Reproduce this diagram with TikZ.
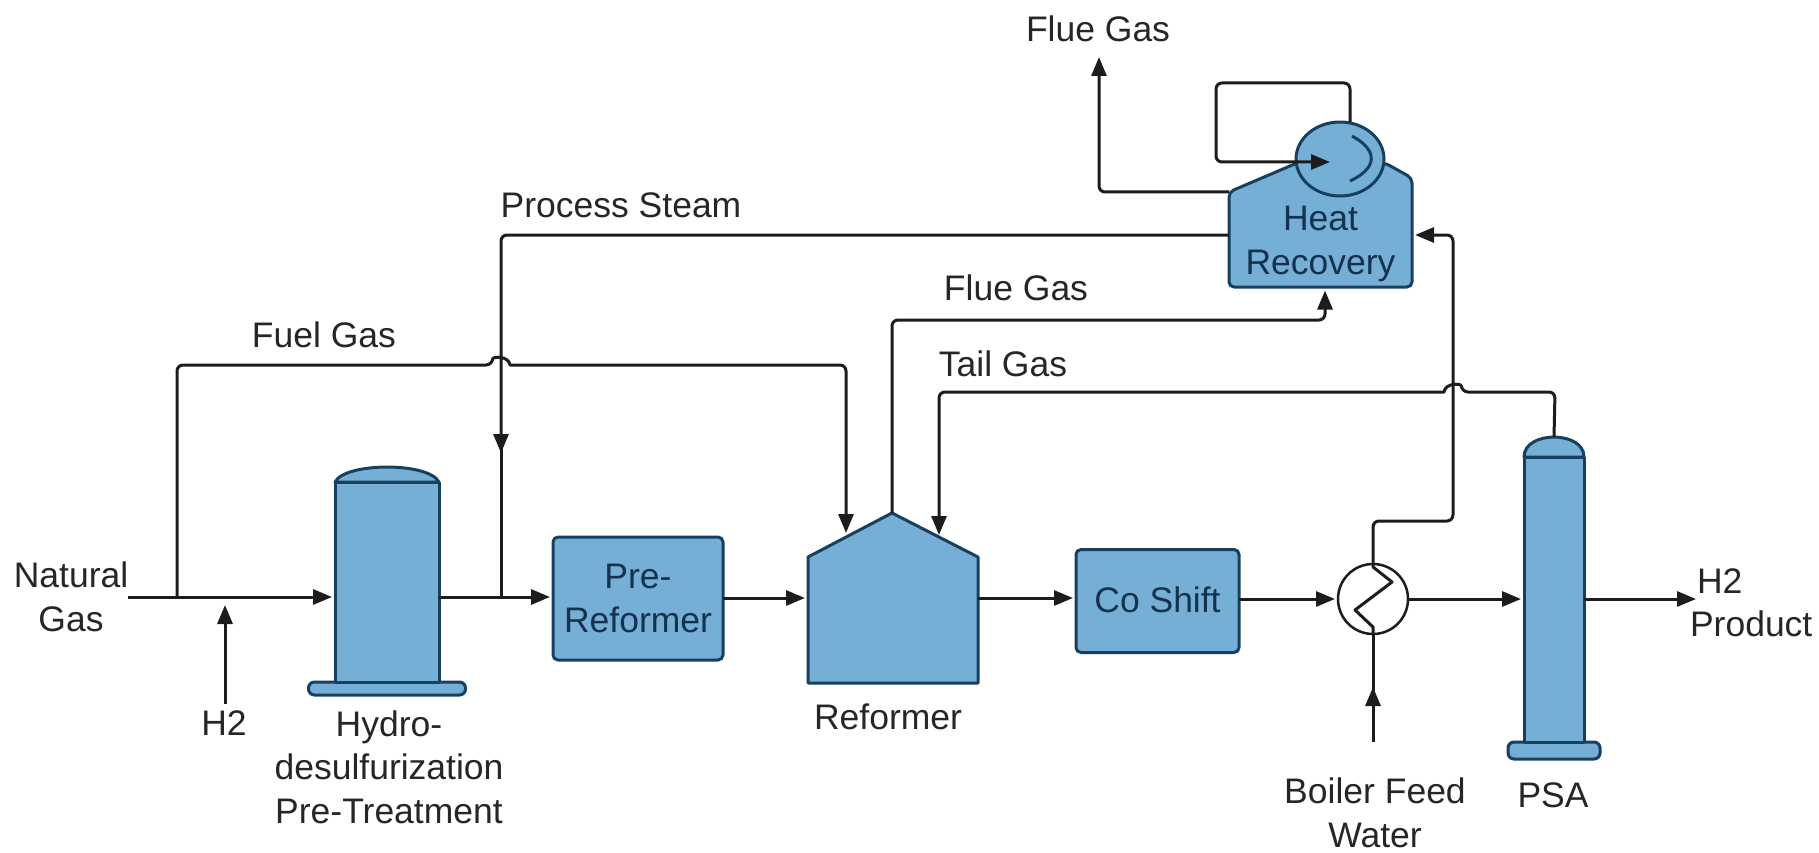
\documentclass[tikz,border=0pt]{standalone}
\usepackage{fontspec}
\setmainfont{Liberation Sans}
\usetikzlibrary{shapes.geometric,calc,arrows.meta}
\definecolor{unitblue}{HTML}{76AFD6}
\definecolor{unitline}{HTML}{17405F}
\definecolor{unittext}{HTML}{14324D}
\definecolor{pipeline}{HTML}{1C1C1C}
\newcommand{\vessel}[9]{
	\filldraw[shell] ($(#2,#4)+(-0.5*#3,0)$) .. controls ($(#2,#4)+(-#9*#3,-1.33*#6)$) and ($(#2,#4)+(#9*#3,-1.33*#6)$) .. ($(#2,#4)+(0.5*#3,0)$) -- cycle;
	\filldraw[shell,rounded corners=6pt] ($(#2,#5)+(-#7,0)$) rectangle ($(#2,#5)+(#7,#8)$);
	\node[shell, minimum width=#3pt, minimum height={#5pt-#4pt}] (#1) at (#2,{(#4+#5)/2}) {};
	\coordinate (#1_top) at ($(#2,#4)+(0,-#6)$);
}

\begin{document}
\begin{tikzpicture}[x=1pt,y=-1pt,join=round,font=\fontsize{35.5}{43.5}\selectfont]
		\tikzstyle{shell}=[draw=unitline, fill=unitblue, line width=3pt, inner sep=0, outer sep=0];
		\tikzstyle{unit_box}=[shell, rounded corners=5pt, text=unittext, align=center];
		\tikzstyle{ghost}=[inner sep=0, outer sep=0, text=unittext, align=center];
		\tikzstyle{txt}=[inner sep=0, outer sep=0, text=black!85, align=center];
		\tikzstyle{pipe}=[draw=pipeline, line width=3pt, rounded corners=6pt];
		\tikzstyle{flow}=[pipe, -{Triangle[length=19pt,width=15pt]}, shorten >=3pt];
		
		\useasboundingbox (0,0) rectangle (1819,853);
		
		\vessel{hydro}{387}{104}{482}{682}{15}{78.5}{13}{0.4}
		\vessel{psa}{1554}{60}{457}{742}{20}{46}{17}{0.5}
		
		\node[unit_box, minimum width=170pt, minimum height=123pt] (prereformer) at (638,598.5) {Pre-\\Reformer};
		\node[unit_box, minimum width=163pt, minimum height=103pt] (coshift) at (1157.5,601) {\raisebox{2pt}{Co Shift}};
		
		\filldraw[shell] (808,557) -- (892,513) -- (978,557) -- (978,683) -- (808,683) -- cycle;
		\node[ghost, minimum width=170pt, minimum height=170pt] (reformer) at (893,598) {};
		
		\filldraw[shell,rounded corners=5pt] (1229,192) -- (1297,163) -- (1385,163) -- (1412,178) -- (1412,287) -- (1229,287) -- cycle;
		\node[ghost, minimum width=183pt, minimum height=87pt] (heat) at (1320.5,244) {Heat\\Recovery};
		\node[shell, ellipse, minimum width=88pt, minimum height=74pt] (econ) at (1340,159) {};
		\draw[draw=unitline, line width=3pt] (1352,136) .. controls (1378,150) and (1378,168) .. (1350,181);
		
		\node[draw=pipeline, fill=white, line width=2.5pt, circle, minimum size=70pt, inner sep=0, outer sep=0] (hx) at (1373,599) {};
		\draw[draw=pipeline, line width=3pt] (hx.north) -- ++(0,3) -- ++(19,15) -- ++(-37,28) -- ++(18,17) -- (hx.south);
		
		\node[txt] (natgas) at (71,597) {Natural\\Gas};
		\node[txt] (h2_lbl) at (224,723) {H2};
		\node[txt] (hydro_lbl) at (389,767) {Hydro-\\desulfurization\\Pre-Treatment};
		\node[txt] (reformer_lbl) at (888,717) {Reformer};
		\node[txt] (bfw_lbl) at (1375,813) {Boiler Feed\\Water};
		\node[txt] (psa_lbl) at (1553,795) {PSA};
		\node[txt, anchor=west, align=left] (product) at (1690,603) {\hspace{7pt}H2\\Product};
		\node[txt] (flue_top) at (1098,29) {Flue Gas};
		\node[txt] (flue_mid) at (1016,288) {Flue Gas};
		\node[txt] (steam_lbl) at (621,205) {Process Steam};
		\node[txt] (fuel_lbl) at (324,335) {Fuel Gas};
		\node[txt] (tail_lbl) at (1003,364) {Tail Gas};
		
		\coordinate (h2_in) at (225,704);
		\coordinate (fuel_in) at (177,597);
		\coordinate (steam_in) at (501,597);
		\coordinate (steam_mid) at (501,453);
		\coordinate (bfw_in) at (1373,742);
		\coordinate (bfw_mid) at (1373,687);
		\coordinate (flue_end) at (1099,54);
		\coordinate (loop_in) at (1333,162);
		\coordinate (fuel_end) at (846,536);
		\coordinate (tail_end) at (939,538);
		\coordinate (product_in) at (1699,599);
		
		% main line
		\draw[flow] (natgas.east) -- (hydro.west |- natgas.east);
		\draw[flow] (hydro.east |- natgas.east) -- (prereformer.west |- natgas.east);
		\draw[flow] (prereformer.east |- reformer.west) -- (reformer.west);
		\draw[flow] (reformer.east) -- (coshift.west |- reformer.east);
		\draw[flow] (coshift.east |- hx.west) -- (hx.west);
		\draw[flow] (hx.east) -- (psa.west |- hx.east);
		\draw[flow] (psa.east |- hx.east) -- (product_in);
		
		\draw[flow, shorten >=8pt] (h2_in) -- (h2_in |- natgas.east);
		\draw[flow, shorten >=0pt] (bfw_in) -- (bfw_mid);
		\draw[pipe] ($(bfw_mid)+(0,8)$) -- (hx.south);
		
		% fuel, steam
		\draw[flow] (fuel_in) -- (177,365) -- (492,365) [sharp corners] .. controls +(1,-9) and +(-1,-9) .. (510,365) [rounded corners=6pt] -- (846,365) -- (fuel_end);
		\draw[flow, shorten >=0pt] ($(heat.west)+(0,-9)$) -- (steam_mid |- 0,235) -- (steam_mid);
		\draw[pipe] ($(steam_mid)+(0,-8)$) -- (steam_in);
		
		% flue gas and tail gas
		\draw[flow] (reformer.north) ++(-1,0) -- (892,320) -- (1325,320) -- ($(heat.south)+(4.5,0)$);
		\draw[flow] (psa_top) -- (1555,392) -- (1462,392) [sharp corners] .. controls +(-1,-9) and +(1,-9) .. (1444,392) [rounded corners=6pt] -- (939,392) -- (tail_end);
		\draw[flow] (hx.north) -- (1373,521) -- (1453,521) -- (1453,235) -- ($(heat.east)+(0,-9)$);
		\draw[flow] (1229,192) -- (1099,192) -- (flue_end);
		\draw[flow] ($(econ.north)+(10,0)$) -- (1350,83) -- (1216,83) -- (1216,162) -- (loop_in);
	\end{tikzpicture}
\end{document}
